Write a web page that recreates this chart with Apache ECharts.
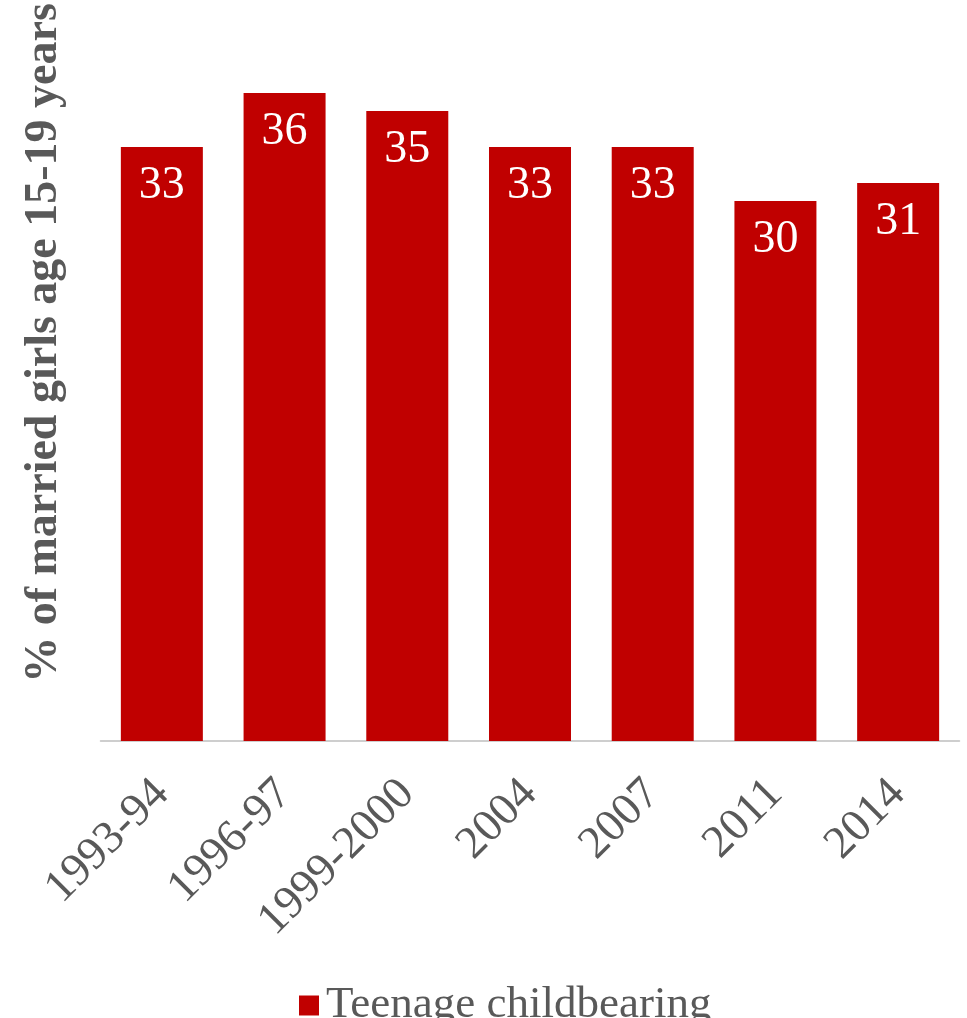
<!DOCTYPE html>
<html>
<head>
<meta charset="utf-8">
<script src="https://cdn.jsdelivr.net/npm/echarts@6/dist/echarts.min.js"></script>
<style>html,body{margin:0;padding:0;background:#fff}#c{width:967px;height:1018px}</style>
</head>
<body>
<div id="c"></div>
<script>
const categories = ['1993-94','1996-97','1999-2000','2004','2007','2011','2014'];
const values = [33, 36, 35, 33, 33, 30, 31];
const seriesName = 'Teenage childbearing';
const yTitle = '% of married girls age 15-19 years';

const FONT = '"Liberation Serif", "DejaVu Serif", serif';
const chart = echarts.init(document.getElementById('c'), null, {renderer: 'canvas'});
chart.setOption({
  animation: false,
  grid: {left: 100.5, right: 7.5, top: 21, bottom: 277, containLabel: false},
  legend: {
    left: 294, top: 978,
    itemWidth: 20, itemHeight: 20, itemGap: 10,
    icon: 'rect',
    textStyle: {fontFamily: FONT, fontSize: 45, color: '#595959', padding: [0,0,0,2]},
    data: [seriesName]
  },
  xAxis: {
    type: 'category', data: categories,
    axisLine: {lineStyle: {color: '#bfbfbf', width: 1.5}},
    axisTick: {show: false},
    axisLabel: {rotate: 45, margin: 46, fontFamily: FONT, fontSize: 46, color: '#595959', interval: 0}
  },
  yAxis: {
    type: 'value', min: 0, max: 40,
    axisLine: {show: false}, axisTick: {show: false},
    axisLabel: {show: false}, splitLine: {show: false}
  },
  graphic: [{
    type: 'text', rotation: Math.PI / 2,
    x: 44, y: 343,
    style: {text: yTitle, fontFamily: FONT, fontWeight: 'bold', fontSize: 46, fill: '#595959',
            textAlign: 'center', textVerticalAlign: 'middle'}
  }],
  series: [{
    name: seriesName, type: 'bar', data: values, barWidth: 82,
    itemStyle: {color: '#C00000'},
    label: {show: true, position: 'insideTop', distance: 16, fontFamily: FONT, fontSize: 46, color: '#ffffff'}
  }]
});
</script>
</body>
</html>
